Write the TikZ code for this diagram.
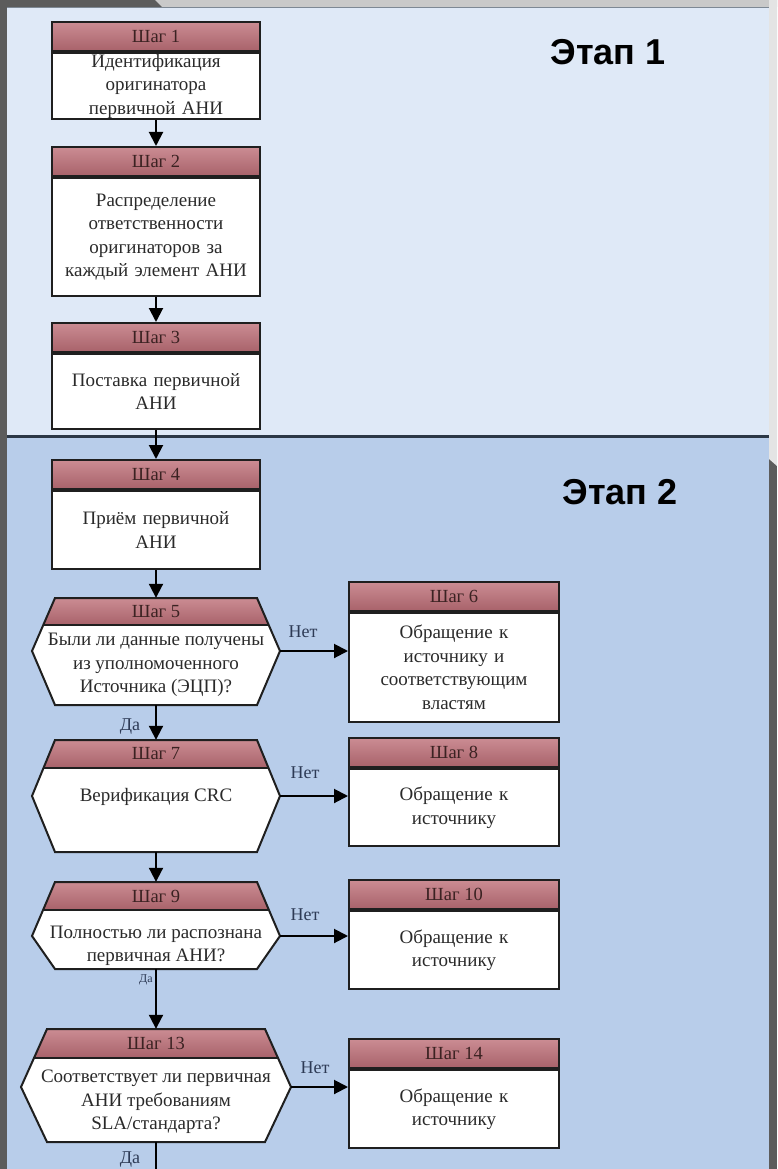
\documentclass[tikz,border=0pt]{standalone}
\usepackage{fontspec}
\setmainfont{Liberation Serif}
\newfontfamily\titlefont{Liberation Sans}
\usetikzlibrary{arrows.meta}

\definecolor{frameDark}{HTML}{5C5C5C}
\definecolor{frameLight}{HTML}{C9C9C9}
\definecolor{frameSide}{HTML}{E4E4E4}
\definecolor{paneA}{HTML}{DFE9F7}
\definecolor{paneB}{HTML}{B8CDEA}
\definecolor{divider}{HTML}{2B3746}
\definecolor{topline}{HTML}{7D8894}
\definecolor{hdrTop}{HTML}{CB8C93}
\definecolor{hdrMid}{HTML}{F4D6D9}
\definecolor{hdrBot}{HTML}{A8626A}
\definecolor{hdrText}{HTML}{3B2222}
\definecolor{ink}{HTML}{2A2A2A}
\definecolor{lbl}{HTML}{2D3A55}

\tikzset{
  boxline/.style={draw=black!88, line width=2pt},
  body/.style={boxline, fill=white, anchor=north, inner ysep=0pt, inner xsep=4pt,
    text width=200pt, align=center, text=ink, font=\fontsize{19}{23.5}\selectfont},
  head/.style={boxline, top color=hdrTop, middle color=hdrMid, bottom color=hdrBot,
    anchor=south, inner sep=0pt, minimum width=208pt, minimum height=29pt,
    text=hdrText, font=\fontsize{18.5}{20}\selectfont},
  headtxt/.style={text=hdrText, inner sep=0pt, font=\fontsize{18.5}{20}\selectfont},
  txt/.style={align=center, inner sep=0pt, text=ink, font=\fontsize{19}{23.5}\selectfont},
  flow/.style={line width=2pt, black, -{Triangle[length=14pt,width=14pt]}},
  answer/.style={text=lbl, inner sep=0pt, font=\fontsize{18}{20}\selectfont},
  stage/.style={inner sep=0pt, font=\titlefont\bfseries\fontsize{36}{40}\selectfont}
}

% hexagonal decision step: #1 name, #2 centre x, #3 top, #4 header bottom,
% #5 level of the side points, #6 bottom, #7 half width of top and bottom edges,
% #8 half width at the points, #9 header text.
% (#1) spans the shape from top to bottom, (#1p) carries the side points.
\newcommand\hexstep[9]{%
  \pgfmathsetmacro\hxmid{(#3+#6)/2}%
  \pgfmathsetmacro\hxw{2*#8}%
  \pgfmathsetmacro\hxh{#6-#3}%
  \begin{scope}
    \clip ({#2-#7},#3) -- ({#2+#7},#3) -- ({#2+#8},#5) -- ({#2+#7},#6)
      -- ({#2-#7},#6) -- ({#2-#8},#5) -- cycle;
    \fill[white] ({#2-#8},#3) rectangle ({#2+#8},#6);
    \shade[top color=hdrTop, middle color=hdrMid, bottom color=hdrBot]
      ({#2-#8},#3) rectangle ({#2+#8},#4);
    \draw[boxline] ({#2-#8},#4) -- ({#2+#8},#4);
  \end{scope}
  \draw[boxline, line join=miter] ({#2-#7},#3) -- ({#2+#7},#3) -- ({#2+#8},#5)
    -- ({#2+#7},#6) -- ({#2-#7},#6) -- ({#2-#8},#5) -- cycle;
  \node[inner sep=0pt, minimum width=\hxw pt, minimum height=\hxh pt] (#1) at (#2,\hxmid) {};
  \node[inner sep=0pt, minimum width=\hxw pt, minimum height=0pt] (#1p) at (#2,#5) {};
  \node[headtxt] (#1h) at (#2,{(#3+#4)/2}) {#9};
}

\begin{document}
\begin{tikzpicture}[x=1pt, y=-1pt]
\useasboundingbox (0,0) rectangle (777,1169);

% frame and the two stage panels
\fill[frameDark] (0,0) rectangle (777,1169);
\fill[frameLight] (155,0) -- (777,0) -- (777,7) -- (162,7) -- cycle;
\fill[frameSide] (769,0) -- (777,0) -- (777,466) -- (769,459) -- cycle;
\fill[paneA] (7,7) rectangle (769,436);
\fill[paneB] (7,436) rectangle (769,1169);
\draw[topline, line width=1.2pt] (7,7.6) -- (769,7.6);
\draw[divider, line width=3pt] (7,436) -- (769,436);

\node[stage] (e1) at (608,52) {Этап 1};
\node[stage] (e2) at (620,492) {Этап 2};

% stage 1
\node[body, minimum height=66pt] (s1) at (156,52) {Идентификация\\оригинатора\\первичной АНИ};
\node[head] (s1h) at (s1.north) {Шаг 1};

\node[body, minimum height=118pt] (s2) at (156,177) {Распределение\\ответственности\\оригинаторов за\\каждый элемент АНИ};
\node[head] (s2h) at (s2.north) {Шаг 2};

\node[body, minimum height=75pt] (s3) at (156,353) {Поставка первичной\\АНИ};
\node[head] (s3h) at (s3.north) {Шаг 3};

% stage 2
\node[body, minimum height=78pt] (s4) at (156,490) {Приём первичной\\АНИ};
\node[head] (s4h) at (s4.north) {Шаг 4};

\hexstep{s5}{156}{598}{625}{651}{705}{101}{124}{Шаг 5}
\node[txt] (s5t) at (156,665) {Были ли данные получены\\из уполномоченного\\Источника (ЭЦП)?};

\hexstep{s7}{156}{740}{768}{796}{852}{101}{124}{Шаг 7}
\node[txt] (s7t) at (156,797) {Верификация CRC};

\hexstep{s9}{156}{882}{910}{936}{969}{101}{124}{Шаг 9}
\node[txt] (s9t) at (156,946) {Полностью ли распознана\\первичная АНИ?};

\hexstep{s13}{156}{1029}{1058}{1087}{1142}{109}{135}{Шаг 13}
\node[txt] (s13t) at (156,1102) {Соответствует ли первичная\\АНИ требованиям\\SLA/стандарта?};

\node[body, minimum width=210pt, text width=202pt, minimum height=109pt] (s6) at (454,612) {Обращение к\\источнику и\\соответствующим\\властям};
\node[head, minimum width=210pt] (s6h) at (s6.north) {Шаг 6};

\node[body, minimum width=210pt, text width=202pt, minimum height=77pt] (s8) at (454,768) {Обращение к\\источнику};
\node[head, minimum width=210pt] (s8h) at (s8.north) {Шаг 8};

\node[body, minimum width=210pt, text width=202pt, minimum height=78pt] (s10) at (454,910) {Обращение к\\источнику};
\node[head, minimum width=210pt] (s10h) at (s10.north) {Шаг 10};

\node[body, minimum width=210pt, text width=202pt, minimum height=78pt] (s14) at (454,1069) {Обращение к\\источнику};
\node[head, minimum width=210pt] (s14h) at (s14.north) {Шаг 14};

% main flow
\draw[flow] (s1.south) -- (s1.south |- s2h.north);
\draw[flow] (s2.south) -- (s2.south |- s3h.north);
\draw[flow] (s3.south) -- (s3.south |- s4h.north);
\draw[flow] (s4.south) -- (s5.north);
\draw[flow] (s5.south) -- (s7.north);
\draw[flow] (s7.south) -- (s9.north);
\draw[flow] (s9.south) -- (s13.north);
\coordinate (out) at (156,1169);
\draw[line width=2pt] (s13.south) -- (out);

% "no" branches
\draw[flow] (s5p.east) -- (s5p.east -| s6.west);
\draw[flow] (s7p.east) -- (s7p.east -| s8.west);
\draw[flow] (s9p.east) -- (s9p.east -| s10.west);
\draw[flow] (s13p.east) -- (s13p.east -| s14.west);

\node[answer] (n5) at (303,632) {Нет};
\node[answer] (n7) at (305,773) {Нет};
\node[answer] (n9) at (305,915) {Нет};
\node[answer] (n13) at (315,1068) {Нет};

\node[answer] (y5) at (130,727) {Да};
\node[answer, font=\fontsize{12}{14}\selectfont] (y9) at (146,980) {Да};
\node[answer] (y13) at (130,1160) {Да};
\end{tikzpicture}
\end{document}
